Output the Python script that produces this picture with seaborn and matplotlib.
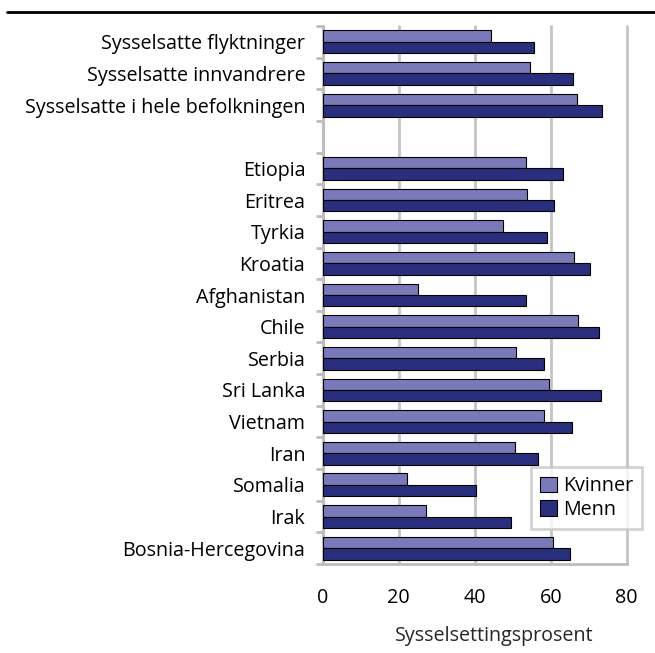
import pandas as pd
import matplotlib
matplotlib.use("Agg")
import matplotlib.pyplot as plt
import seaborn as sns
from matplotlib.lines import Line2D
from matplotlib.ticker import FixedLocator

# categories from top to bottom (blank slot separates the two groups)
groups = ["Sysselsatte flyktninger", "Sysselsatte innvandrere",
          "Sysselsatte i hele befolkningen", " ",
          "Etiopia", "Eritrea", "Tyrkia", "Kroatia", "Afghanistan", "Chile",
          "Serbia", "Sri Lanka", "Vietnam", "Iran", "Somalia", "Irak",
          "Bosnia-Hercegovina"]
kvinner = [44.3, 54.6, 66.8, None,
           53.6, 53.8, 47.4, 66.0, 25.2, 67.3,
           50.9, 59.6, 58.3, 50.7, 22.3, 27.3, 60.7]
menn = [55.5, 65.9, 73.4, None,
        63.2, 60.8, 59.1, 70.3, 53.4, 72.6,
        58.3, 73.2, 65.5, 56.7, 40.4, 49.6, 65.2]

rows = []
for g, k, m in zip(groups, kvinner, menn):
    if k is not None:
        rows.append({"gruppe": g, "kjonn": "Kvinner", "prosent": k})
        rows.append({"gruppe": g, "kjonn": "Menn", "prosent": m})
df = pd.DataFrame(rows)

sns.set_style("white")
plt.rcParams["font.family"] = ["Open Sans", "DejaVu Sans"]
plt.rcParams["text.color"] = "black"
plt.rcParams["xtick.labelcolor"] = "black"
plt.rcParams["ytick.labelcolor"] = "black"
fs = 14.2

fig = plt.figure(figsize=(6.55, 6.53), dpi=100)
ax = fig.add_axes([322.7 / 655, 1 - 564 / 653, 304 / 655, 538 / 653])

sns.barplot(data=df, y="gruppe", x="prosent", hue="kjonn", order=groups,
            hue_order=["Kvinner", "Menn"], palette=["#7A7ABA", "#292E7D"],
            orient="h", width=0.72, edgecolor="black", linewidth=0.8,
            saturation=1, ax=ax, zorder=3)

ax.set_xlim(0, 80)
ax.set_ylim(len(groups) - 0.5, -0.5)
ax.set_xticks([0, 20, 40, 60, 80])
ax.tick_params(axis="x", labelsize=fs, colors="#BDBDBD", labelcolor="black",
               length=5, width=2, pad=12, direction="out")
ax.tick_params(axis="y", which="major", length=0, labelsize=fs, pad=12.5,
               labelcolor="black")
ax.yaxis.set_minor_locator(FixedLocator([i - 0.5 for i in range(len(groups) + 1)]))
ax.tick_params(axis="y", which="minor", length=5, width=2, color="#BDBDBD", left=True)
ax.xaxis.grid(True, color="#C4C4C4", linewidth=2, zorder=0)
for gl in ax.get_xgridlines():
    gl.set_clip_on(False)
ax.set_axisbelow(True)

for side in ["top", "right"]:
    ax.spines[side].set_visible(False)
for side in ["left", "bottom"]:
    ax.spines[side].set_color("#BDBDBD")
    ax.spines[side].set_linewidth(2)

ax.set_ylabel("")
ax.set_xlabel("Sysselsettingsprosent", fontsize=fs)
ax.xaxis.set_label_coords(0.563, -0.115)

leg = ax.legend(loc="lower right", bbox_to_anchor=(1.05, 0.065), fontsize=fs,
                frameon=True, fancybox=False, borderpad=0.45, handlelength=0.85,
                handleheight=0.85, handletextpad=0.3, labelspacing=0.2,
                borderaxespad=0)
leg.get_frame().set_edgecolor("#C8C8C8")
leg.get_frame().set_linewidth(2)
leg.set_zorder(5)

fig.add_artist(Line2D([7 / 655, 1], [1 - 12 / 653, 1 - 12 / 653],
                      color="black", linewidth=2))

fig.savefig("out.png", dpi=100)
